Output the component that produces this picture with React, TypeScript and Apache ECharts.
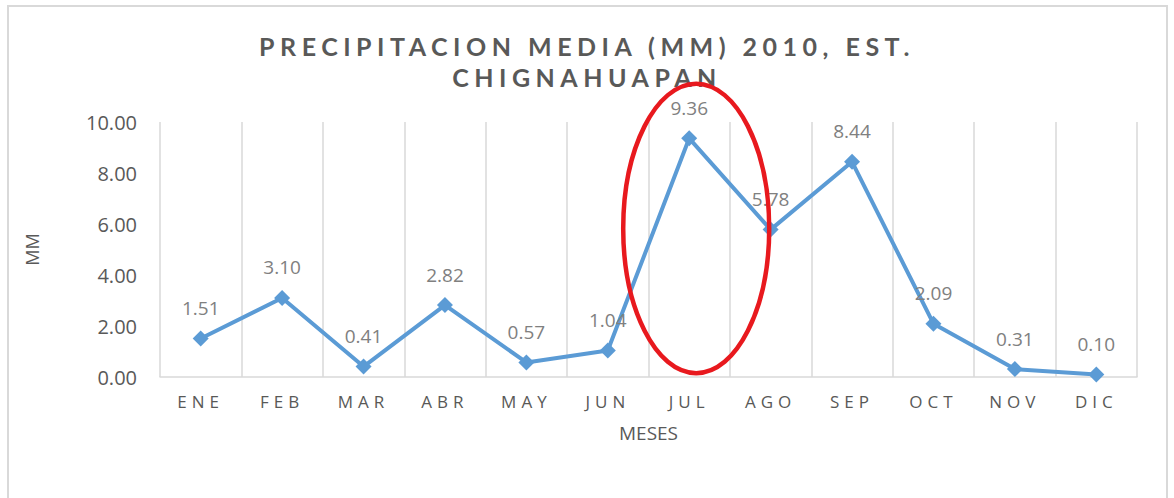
import React, { useEffect, useRef } from "react";
import * as echarts from "echarts";

const months = ["ENE", "FEB", "MAR", "ABR", "MAY", "JUN", "JUL", "AGO", "SEP", "OCT", "NOV", "DIC"];
const precip = [1.51, 3.1, 0.41, 2.82, 0.57, 1.04, 9.36, 5.78, 8.44, 2.09, 0.31, 0.1];
const titleText = "PRECIPITACION MEDIA (MM) 2010, EST.\nCHIGNAHUAPAN";
const yAxisName = "MM";
const xAxisName = "MESES";
const highlightMonth = "JUL";

const FONT = "'Open Sans', 'Noto Sans', sans-serif";

export default function App() {
  const ref = useRef<HTMLDivElement>(null);
  useEffect(() => {
    if (!ref.current) return;
    const chart = echarts.init(ref.current, undefined, { renderer: "svg" });
    chart.setOption({
      animation: false,
      backgroundColor: "#ffffff",
      title: {
        text: titleText,
        left: "center",
        top: 25,
        textStyle: {
          fontFamily: "Lato, 'Open Sans', sans-serif",
          fontSize: 25,
          fontWeight: "bold",
          color: "#595958",
          lineHeight: 31,
        },
      },
      grid: { left: 160, right: 37, top: 122, bottom: 121, containLabel: false },
      xAxis: {
        type: "category",
        data: months,
        boundaryGap: true,
        name: xAxisName,
        nameLocation: "middle",
        nameGap: 46,
        nameTextStyle: { fontFamily: FONT, fontSize: 19, color: "#595959" },
        axisLine: { show: true, lineStyle: { color: "#d9d9d9", width: 1.5 } },
        axisTick: { show: false },
        splitLine: { show: true, lineStyle: { color: "#d9d9d9", width: 1.5 } },
        axisLabel: { fontFamily: FONT, fontSize: 17, color: "#595957", margin: 16 },
      },
      yAxis: {
        type: "value",
        min: 0,
        max: 10,
        interval: 2,
        name: yAxisName,
        nameLocation: "middle",
        nameGap: 119,
        nameTextStyle: { fontFamily: FONT, fontSize: 18, color: "#595959" },
        axisLine: { show: false },
        axisTick: { show: false },
        splitLine: { show: false },
        axisLabel: {
          fontFamily: FONT,
          fontSize: 20,
          color: "#595959",
          margin: 23,
          formatter: (v: number) => v.toFixed(2),
        },
      },
      series: [
        {
          type: "line",
          data: precip,
          symbol: "diamond",
          symbolSize: 16,
          lineStyle: { color: "#5B9BD5", width: 4 },
          itemStyle: { color: "#5B9BD5" },
          label: {
            show: true,
            position: "top",
            distance: 13,
            fontFamily: FONT,
            fontSize: 19,
            color: "#808080",
            formatter: (p: any) => Number(p.value).toFixed(2),
          },
        },
      ],
    });
    const c = chart.convertToPixel({ xAxisIndex: 0, yAxisIndex: 0 }, [highlightMonth, 0]) as number[];
    const top = chart.convertToPixel({ xAxisIndex: 0, yAxisIndex: 0 }, [highlightMonth, 10]) as number[];
    const cx = c[0] + 7;
    const y0 = c[1];
    const y10 = top[1];
    const span = y0 - y10;
    const cyTop = y10 - span * 0.15;
    const cyBot = y0 - span * 0.015;
    chart.setOption({
      graphic: [
        {
          type: "rect",
          shape: { x: 8, y: 6, width: 1159, height: 600 },
          style: { fill: "none", stroke: "#d9d9d9", lineWidth: 2 },
          silent: true,
        },
        {
          type: "ellipse",
          shape: { cx, cy: (cyTop + cyBot) / 2, rx: 73, ry: (cyBot - cyTop) / 2 },
          style: { fill: "none", stroke: "#E8191E", lineWidth: 4.5 },
          silent: true,
          z: 100,
        },
      ],
    });
    return () => chart.dispose();
  }, []);
  return (
    <>
      <style>{`
        #chartbox text[fill="#595958"] { letter-spacing: 5.5px; }
        #chartbox text[fill="#595957"] { letter-spacing: 5px; }
      `}</style>
      <div
        id="chartbox"
        ref={ref}
        style={{ position: "fixed", left: 0, top: 0, width: 1174, height: 498, background: "#fff" }}
      />
    </>
  );
}
